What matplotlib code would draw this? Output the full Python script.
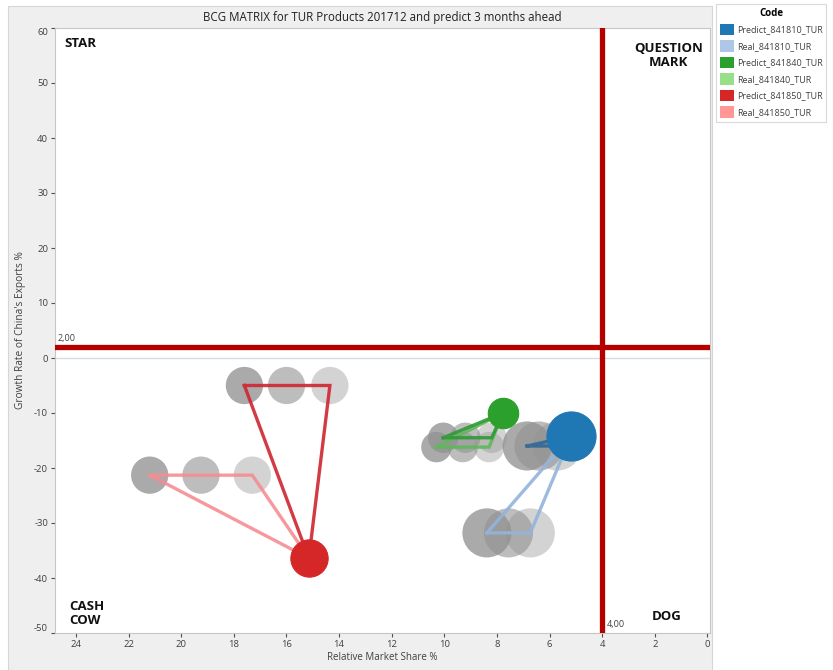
import matplotlib
matplotlib.use("Agg")
import matplotlib.pyplot as plt
from matplotlib.patches import Patch, Rectangle
from matplotlib.transforms import blended_transform_factory, offset_copy

plt.rcParams['font.family'] = ['Open Sans', 'DejaVu Sans']

# ---- data ---------------------------------------------------------------
products = ["841810", "841840", "841850"]

# predicted position (relative market share %, growth rate %)
predict_x = [5.18, 7.77, 15.15]
predict_y = [-14.2, -10.0, -36.4]

# monthly history shown for the "Predict" series (three months)
pred_hist_x = [[6.85, 6.40, 5.70], [10.04, 9.20, 8.20], [17.60, 16.00, 14.35]]
pred_hist_y = [-16.0, -14.5, -5.0]

# monthly history shown for the "Real" series (three months)
real_hist_x = [[8.38, 7.56, 6.73], [10.30, 9.30, 8.30], [21.20, 19.25, 17.30]]
real_hist_y = [-31.8, -16.2, -21.3]

# bubble size per product
bubble_size = [1250, 480, 720]

ref_growth = 2.0
ref_share = 4.0

x_ticks = [24, 22, 20, 18, 16, 14, 12, 10, 8, 6, 4, 2, 0]
y_ticks = [60, 50, 40, 30, 20, 10, 0, -10, -20, -30, -40, -50]

predict_colors = ["#1f77b4", "#2ca02c", "#d62728"]
real_colors = ["#aec7e8", "#98df8a", "#ff9896"]
pred_line_colors = ["#2f6796", "#2e9a33", "#cf2530"]
real_line_colors = ["#93b4dc", "#5fb85a", "#f58d92"]
hist_alpha = [0.78, 0.6, 0.4]

# ---- figure -------------------------------------------------------------
W, H = 833, 670
fig = plt.figure(figsize=(W / 100, H / 100), dpi=100)

# light frame behind the graph
fig.patches.append(Rectangle((8 / W, 0), (712 - 8) / W, (H - 6) / H,
                             transform=fig.transFigure, facecolor="#efefef",
                             edgecolor="#d6d6d6", lw=0.8, zorder=-10))

ax_l, ax_r, ax_t, ax_b = 55, 710, 28, 633
ax = fig.add_axes([ax_l / W, 1 - ax_b / H, (ax_r - ax_l) / W, (ax_b - ax_t) / H])
ax.set_facecolor("white")

ax.set_xlim(24.8, -0.1)
ax.set_ylim(-50, 60)

# zero line
ax.axhline(0, color="#d3dde6", lw=1.0, zorder=1)

# history bubbles and trajectories
for i in range(len(products)):
    for hx, hy in ((pred_hist_x[i], pred_hist_y[i]), (real_hist_x[i], real_hist_y[i])):
        for j, xv in enumerate(hx):
            ax.scatter([xv], [hy], s=bubble_size[i], color="#929292",
                       alpha=hist_alpha[j], edgecolors="none", zorder=2)

    px = [real_hist_x[i][0], real_hist_x[i][-1], predict_x[i], real_hist_x[i][0]]
    py = [real_hist_y[i], real_hist_y[i], predict_y[i], real_hist_y[i]]
    ax.plot(px, py, color=real_line_colors[i], lw=2.4, alpha=0.9,
            solid_joinstyle="miter", zorder=3)

    px = [pred_hist_x[i][0], pred_hist_x[i][-1], predict_x[i], pred_hist_x[i][0]]
    py = [pred_hist_y[i], pred_hist_y[i], predict_y[i], pred_hist_y[i]]
    ax.plot(px, py, color=pred_line_colors[i], lw=2.4, alpha=0.9,
            solid_joinstyle="miter", zorder=3)

    ax.scatter([predict_x[i]], [predict_y[i]], s=bubble_size[i],
               color=predict_colors[i], edgecolors=predict_colors[i],
               linewidths=0.8, zorder=5)

# quadrant reference lines
ax.axhline(ref_growth, color="#b60000", lw=3.8, zorder=6)
ax.axvline(ref_share, color="#b60000", lw=3.8, zorder=6)

ht = blended_transform_factory(ax.transAxes, ax.transData)
ax.text(0.004, ref_growth, f"{ref_growth:.2f}".replace(".", ","),
        transform=offset_copy(ht, fig=fig, x=0, y=3, units="points"),
        fontsize=6.5, color="#404040", va="bottom", ha="left", zorder=7)
vt = blended_transform_factory(ax.transData, ax.transAxes)
ax.text(ref_share, 0.006, f"{ref_share:.2f}".replace(".", ","),
        transform=offset_copy(vt, fig=fig, x=3, y=0, units="points"),
        fontsize=6.5, color="#404040", va="bottom", ha="left", zorder=7)

# quadrant names
qkw = dict(transform=ax.transAxes, fontsize=9.5, fontweight="bold",
           color="#111111", zorder=8, linespacing=1.1)
ax.text(0.015, 0.974, "STAR", ha="left", va="center", **qkw)
ax.text(0.937, 0.955, "QUESTION\nMARK", ha="center", va="center", **qkw)
ax.text(0.022, 0.032, "CASH\nCOW", ha="left", va="center", **qkw)
ax.text(0.934, 0.028, "DOG", ha="center", va="center", **qkw)

# axes styling
ax.set_xticks(x_ticks)
ax.set_xticklabels([str(v) for v in x_ticks])
ax.set_yticks(y_ticks)
ax.set_yticklabels([str(v) for v in y_ticks])
ax.tick_params(axis="both", labelsize=6.8, labelcolor="#404040", color="#505050",
               length=3, width=0.8, direction="out", pad=2)
for lbl in ax.get_yticklabels():
    if lbl.get_text() == "60":
        lbl.set_va("top")
    elif lbl.get_text() == "-50":
        lbl.set_va("bottom")

for side, sp in ax.spines.items():
    sp.set_color("#c6c6c6")
    sp.set_linewidth(0.8)

ax.set_xlabel("Relative Market Share %", fontsize=7, color="#404040", labelpad=2)
ax.set_ylabel("Growth Rate of China's Exports %", fontsize=7.3, color="#404040", labelpad=6)

# title band
fig.text((ax_l + ax_r) / 2 / W, 1 - 17 / H,
         "BCG MATRIX for TUR Products 201712 and predict 3 months ahead",
         ha="center", va="center", fontsize=8.3, color="#202020")

# legend
handles = []
for i, p in enumerate(products):
    handles.append(Patch(facecolor=predict_colors[i], edgecolor="none", label=f"Predict_{p}_TUR"))
    handles.append(Patch(facecolor=real_colors[i], edgecolor="none", label=f"Real_{p}_TUR"))
leg = fig.legend(handles=handles, title="Code", loc="upper left",
                 bbox_to_anchor=(716 / W, 1 - 4 / H), fontsize=6.5,
                 title_fontproperties={"size": 7, "weight": "bold"},
                 frameon=True, fancybox=False, edgecolor="#d0d0d0",
                 handlelength=1.6, handleheight=1.6, handletextpad=0.3,
                 labelspacing=0.55, borderpad=0.4, borderaxespad=0)
leg.get_frame().set_linewidth(0.8)
for t in leg.get_texts():
    t.set_color("#404040")

fig.savefig("out.png", dpi=100, facecolor="white")
